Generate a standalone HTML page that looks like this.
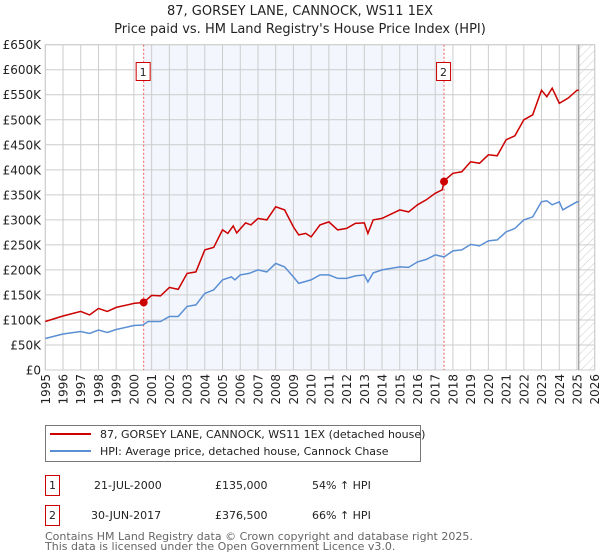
<!DOCTYPE html>
<html><head><meta charset="utf-8">
<style>
body{margin:0;background:#fff;}
svg{display:block;font-family:"DejaVu Sans","Liberation Sans",sans-serif;}
</style></head>
<body>
<svg id="chart" width="600" height="560" viewBox="0 0 600 560">
<defs>
<pattern id="hatch" width="6" height="6" patternUnits="userSpaceOnUse" patternTransform="rotate(45)">
<line x1="0" y1="0" x2="0" y2="6" stroke="#bbb" stroke-width="0.8"/>
</pattern>
</defs>
<text x="300" y="15" text-anchor="middle" font-size="13" fill="#222">87, GORSEY LANE, CANNOCK, WS11 1EX</text>
<text x="300" y="33" text-anchor="middle" font-size="13" fill="#222">Price paid vs. HM Land Registry's House Price Index (HPI)</text>
<g id="plot"></g>
<g>
<rect x="45.5" y="425.5" width="375" height="36" fill="#fff" stroke="#777"/>
<line x1="50" y1="434" x2="91" y2="434" stroke="#cc0000" stroke-width="2"/>
<text x="100" y="438" font-size="11" fill="#222">87, GORSEY LANE, CANNOCK, WS11 1EX (detached house)</text>
<line x1="50" y1="451" x2="91" y2="451" stroke="#5b8fd4" stroke-width="2"/>
<text x="100" y="455" font-size="11" fill="#222">HPI: Average price, detached house, Cannock Chase</text>
</g>
<g font-size="11" fill="#222">
<rect x="45.5" y="475.5" width="14" height="20" fill="#fff" stroke="#cc0000"/>
<text x="52.5" y="489" text-anchor="middle">1</text>
<text x="94" y="489">21-JUL-2000</text>
<text x="215" y="489">£135,000</text>
<text x="312" y="489">54% ↑ HPI</text>
<rect x="45.5" y="505.5" width="14" height="20" fill="#fff" stroke="#cc0000"/>
<text x="52.5" y="519" text-anchor="middle">2</text>
<text x="91" y="519">30-JUN-2017</text>
<text x="215" y="519">£376,500</text>
<text x="312" y="519">66% ↑ HPI</text>
</g>
<text x="45" y="540" font-size="11" fill="#666">Contains HM Land Registry data © Crown copyright and database right 2025.</text>
<text x="45" y="550" font-size="11" fill="#666">This data is licensed under the Open Government Licence v3.0.</text>
</svg>
<script>
const yTicks=[0,50,100,150,200,250,300,350,400,450,500,550,600,650];
const yLabels=["£0","£50K","£100K","£150K","£200K","£250K","£300K","£350K","£400K","£450K","£500K","£550K","£600K","£650K"];
const xYears=[1995,1996,1997,1998,1999,2000,2001,2002,2003,2004,2005,2006,2007,2008,2009,2010,2011,2012,2013,2014,2015,2016,2017,2018,2019,2020,2021,2022,2023,2024,2025,2026];
const hpiT=[1995,1996,1997,1997.5,1998,1998.5,1999,2000,2000.5,2000.8,2001.5,2002,2002.5,2003,2003.5,2004,2004.5,2005,2005.5,2005.7,2006,2006.5,2007,2007.5,2008,2008.5,2009,2009.3,2010,2010.5,2011,2011.5,2012,2012.5,2013,2013.2,2013.5,2014,2015,2015.5,2016,2016.5,2017,2017.5,2018,2018.5,2019,2019.5,2020,2020.5,2021,2021.5,2022,2022.5,2023,2023.3,2023.6,2024,2024.2,2024.5,2025,2025.1];
const hpiV=[63,72,77,73,80,75,81,89,90,97,97,107,107,127,130,153,160,180,186,180,190,193,200,196,213,206,186,173,180,190,190,183,183,188,190,176,194,200,206,205,216,221,230,226,238,240,251,248,258,260,276,283,300,306,336,338,330,336,320,326,336,336];
const propT=[1995,1996,1997,1997.5,1998,1998.5,1999,2000,2000.55,2001,2001.5,2002,2002.5,2003,2003.5,2004,2004.5,2005,2005.3,2005.6,2005.8,2006.3,2006.6,2007,2007.5,2008,2008.5,2009,2009.3,2009.7,2010,2010.5,2011,2011.5,2012,2012.5,2013,2013.2,2013.5,2014,2015,2015.5,2016,2016.5,2017,2017.4,2017.5,2018,2018.5,2019,2019.5,2020,2020.5,2021,2021.5,2022,2022.5,2023,2023.3,2023.6,2024,2024.5,2025,2025.1];
const propV=[97,108,117,110,123,117,125,133,135,149,148,165,161,193,196,240,245,280,273,288,274,294,290,303,300,326,320,286,270,273,266,290,296,280,283,293,294,273,300,303,320,316,330,340,353,360,378,393,396,416,413,430,428,460,468,500,510,559,546,563,533,543,559,559];
const saleT=[2000.55,2017.5];
const saleV=[135,376.5];
const saleLabels=["1","2"];

const NS="http://www.w3.org/2000/svg";
const X0=45.3,X1=594.7,Y0=370,Y1=44.7;
const xs=t=>X0+(t-1995)/(2026-1995)*(X1-X0);
const ys=v=>Y0-v/650*(Y0-Y1);
const g=document.getElementById('plot');
function mk(tag,attrs,parent){const e=document.createElementNS(NS,tag);for(const k in attrs)e.setAttribute(k,attrs[k]);(parent||g).appendChild(e);return e;}

let shade=mk('rect',{x:xs(saleT[0]),y:Y1,width:xs(saleT[1])-xs(saleT[0]),height:Y0-Y1,fill:'#f3f6fd'});


let hatch=mk('rect',{x:xs(2025.1),y:Y1,width:X1-xs(2025.1),height:Y0-Y1,fill:'url(#hatch)'});



yTicks.forEach((v,i)=>{
  const l=mk('line',{x1:X0,x2:X1,y1:ys(v),y2:ys(v),stroke:'#ccc','stroke-width':1});
  
  
  const t=mk('text',{x:41,y:ys(v)+4.5,'text-anchor':'end','font-size':12,fill:'#222'});
  t.textContent=yLabels[i];
  
  
});
xYears.forEach(yr=>{
  const l=mk('line',{x1:xs(yr),x2:xs(yr),y1:Y1,y2:Y0,stroke:'#ccc','stroke-width':1});
  
  
  const t=mk('text',{x:0,y:0,'text-anchor':'end','font-size':12,fill:'#222',transform:`translate(${xs(yr)+4.5},374) rotate(-90)`});
  t.textContent=yr;
  
  
});
let bd=mk('rect',{x:X0,y:Y1,width:X1-X0,height:Y0-Y1,fill:'none',stroke:'#ccc'});


let nl=mk('line',{x1:xs(2025.1),x2:xs(2025.1),y1:Y1,y2:Y0,stroke:'#999','stroke-width':1.2});



saleT.forEach((t,i)=>{
  const l=mk('line',{x1:xs(t),x2:xs(t),y1:Y1,y2:Y0,stroke:'#f06060','stroke-width':1,'stroke-dasharray':'2,2'});
  
  
});

function path(T,V){return T.map((t,i)=>(i?'L':'M')+xs(t).toFixed(1)+','+ys(V[i]).toFixed(1)).join('');}
let hp=mk('path',{d:path(hpiT,hpiV),fill:'none',stroke:'#5b8fd4','stroke-width':1.5});


let pp=mk('path',{d:path(propT,propV),fill:'none',stroke:'#cc0000','stroke-width':1.5});



saleT.forEach((t,i)=>{
  const c=mk('circle',{cx:xs(t),cy:ys(saleV[i]),r:4,fill:'#cc0000'});
  
  
  const r=mk('rect',{x:xs(t)-7.5,y:62.5,width:14,height:18,fill:'#fff',stroke:'#cc0000'});
  
  
  const tx=mk('text',{x:xs(t)-0.5,y:76,'text-anchor':'middle','font-size':11,fill:'#222'});
  tx.textContent=saleLabels[i];
  
  
});
</script>
</body></html>
